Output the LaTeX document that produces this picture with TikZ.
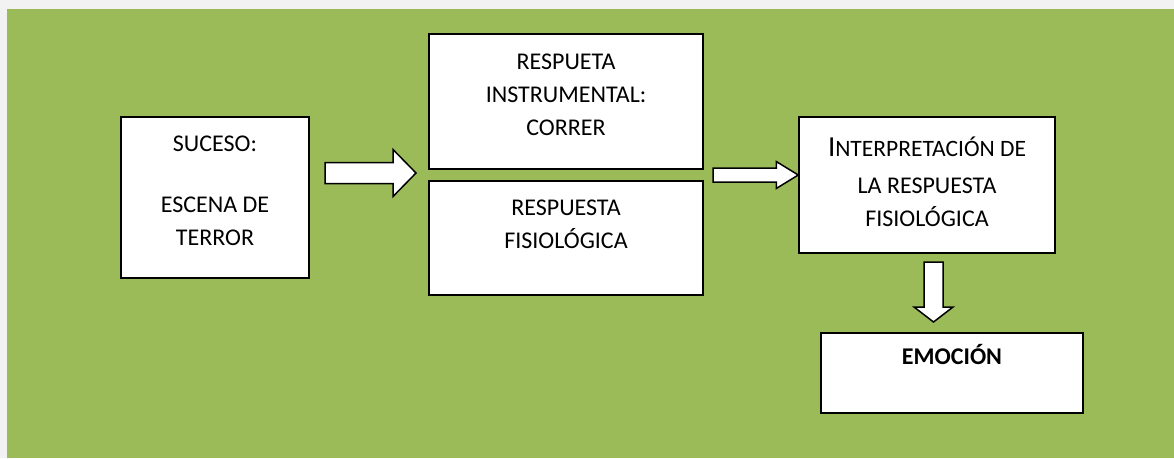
\documentclass[tikz,border=0pt]{standalone}
\usepackage{fontspec}
\setmainfont{Carlito}
\usepackage{tikz}
\usetikzlibrary{calc,positioning}
\definecolor{fondo}{RGB}{242,242,242}
\definecolor{verde}{RGB}{155,187,89}
\newcommand{\flechah}[5]{%
  \draw[flecha] let \p1=(#1), \p2=(#2) in
    (\x1,\y1+#3) -- (\x2-#5,\y1+#3) -- (\x2-#5,\y1+#4) -- (\x2,\y1)
    -- (\x2-#5,\y1-#4) -- (\x2-#5,\y1-#3) -- (\x1,\y1-#3) -- cycle;}
\newcommand{\flechav}[5]{%
  \draw[flecha] let \p1=(#1), \p2=(#2) in
    (\x1-#3,\y1) -- (\x1-#3,\y2+#5) -- (\x1-#4,\y2+#5) -- (\x1,\y2)
    -- (\x1+#4,\y2+#5) -- (\x1+#3,\y2+#5) -- (\x1+#3,\y1) -- cycle;}
\tikzset{
  caja/.style={draw=black, line width=1.5pt, fill=white, inner sep=0pt},
  txt/.style={font=\fontsize{24}{33}\selectfont, align=center, inner sep=0pt, anchor=north},
  flecha/.style={draw=black, line width=1.5pt, fill=white, line join=miter},
}

\begin{document}
\begin{tikzpicture}[x=1pt, y=-1pt]
\useasboundingbox (0,0) rectangle (1174,458);
\fill[fondo] (0,0) rectangle (1174,458);
\fill[verde] (7,9) rectangle (1174,458);
% cajas
\node[caja, minimum width=188pt, minimum height=161pt] (suceso) at (215,197.5) {};
\node[caja, minimum width=274pt, minimum height=135pt] (instr) at (566,101.5) {};
\node[caja, minimum width=274pt, minimum height=114pt] (fisio) at (566,238) {};
\node[caja, minimum width=256pt, minimum height=136pt] (interp) at (927,185) {};
\node[caja, minimum width=262pt, minimum height=80pt] (emocion) at (952,373) {};
% textos
\node[txt] (sucesot) at ($(suceso.north)+(0,19)$) {SUCESO:\\[28pt]ESCENA DE\\TERROR};
\node[txt] (instrt) at ($(instr.north)+(0,20)$) {RESPUETA\\INSTRUMENTAL:\\CORRER};
\node[txt] (fisiot) at ($(fisio.north)+(0,19)$) {RESPUESTA\\FISIOLÓGICA};
\node[txt] (interpt) at ($(interp.north)+(0,20)$)
  {{\fontsize{29}{33}\selectfont I}{\fontsize{23.5}{33}\selectfont NTERPRETACIÓN DE}\\[4pt]LA RESPUESTA\\FISIOLÓGICA};
\node[txt, anchor=base, font=\fontsize{24}{33}\selectfont\bfseries] (emociont) at ($(emocion.north)+(0,32)$) {EMOCIÓN};
% flechas
\coordinate (a1s) at (325,173);
\coordinate (a1e) at (416,173);
\coordinate (a2s) at (713,175);
\coordinate (a2e) at (interp.west |- a2s);
\coordinate (a3s) at (933.5,262);
\coordinate (a3e) at (933.5,322);
\flechah{a1s}{a1e}{10.5pt}{23.5pt}{23pt}
\flechah{a2s}{a2e}{7pt}{13.5pt}{22pt}
\flechav{a3s}{a3e}{9.5pt}{19.5pt}{15pt}
\end{tikzpicture}
\end{document}
